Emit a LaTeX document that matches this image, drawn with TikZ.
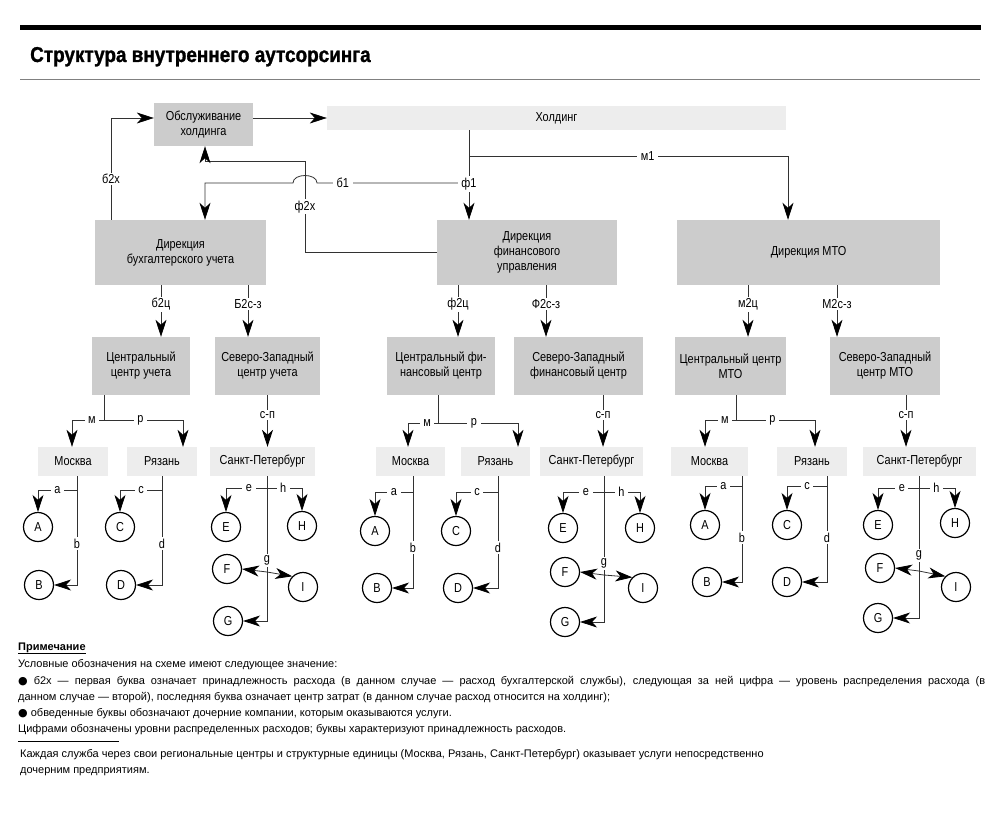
\documentclass[tikz,border=0pt]{standalone}
\usepackage{fontspec}
\setmainfont{Liberation Sans}
\newfontfamily\condfont{Liberation Sans}[FakeStretch=0.84]
\newfontfamily\titlecond{Liberation Sans}[FakeStretch=0.88,BoldFeatures={FakeBold=1.2}]
\newfontfamily\dotfont{DejaVu Sans}
\usetikzlibrary{arrows.meta}
\definecolor{boxgray}{RGB}{204,204,204}
\definecolor{palegray}{RGB}{237,237,237}
\definecolor{linegray}{RGB}{50,50,50}
\newcommand{\boxfont}{\condfont\fontsize{13}{15}\selectfont}
\newcommand{\notefont}{\fontsize{11}{14}\selectfont}
\newcommand{\titlefont}{\titlecond\bfseries\fontsize{21.5}{24}\selectfont}

\begin{document}
\begin{tikzpicture}[x=1pt,y=-1pt,
  box/.style={fill=boxgray,inner sep=0pt,align=center,font=\boxfont},
  pale/.style={fill=palegray,inner sep=0pt,align=center,font=\boxfont,minimum height=29pt},
  firm/.style={draw,circle,line width=1.2pt,minimum size=29pt,inner sep=0pt,font=\boxfont},
  tag/.style={fill=white,inner xsep=3.5pt,inner ysep=1.5pt,font=\boxfont},
  conn/.style={draw=linegray,line width=0.8pt},
  arr/.style={conn,-{Stealth[length=17pt,width=11pt,inset=5pt,color=black]}},
  note/.style={anchor=base west,inner sep=0pt,font=\notefont}]
\useasboundingbox (0,0) rectangle (1000,813);

% title
\draw[line width=5pt] (20,28) -- (981,28);
\node[anchor=base west,inner sep=0pt,font=\titlefont] (title) at (30,62) {Структура внутреннего аутсорсинга};
\draw[gray,line width=1pt] (20,80) -- (980,80);

% top level
\node[box,minimum width=99pt,minimum height=43pt] (obsl) at (203.5,124.5) {Обслуживание\\холдинга};
\node[pale,minimum width=459pt,minimum height=24pt] (hold) at (556.5,118) {Холдинг};
\node[box,minimum width=171pt,minimum height=65pt] (dirB) at (180.5,252.5) {Дирекция\\бухгалтерского учета};
\node[box,minimum width=180pt,minimum height=65pt] (dirF) at (527,252.5) {Дирекция\\финансового\\управления};
\node[box,minimum width=263pt,minimum height=65pt] (dirM) at (808.5,252.5) {Дирекция МТО};

\coordinate (mJ) at (469,156);
\coordinate (bJ) at (469,183);
\coordinate (hop) at (305,183);
\coordinate (f2x) at (305,161);

\draw[arr] (obsl.east |- hold.west) -- (hold.west);
\draw[arr] ([xshift=-69.5]dirB.north) |- node[tag,pos=0.2]{б2х} (obsl.west |- hold.west);
\draw[arr] (mJ) -| node[tag,pos=0.28]{м1} ([xshift=-20.5]dirM.north);
\draw[arr] (bJ) -- node[tag,pos=0.83]{б1} ([xshift=12]hop)
  .. controls ([xshift=12,yshift=10]hop) and ([xshift=-12,yshift=10]hop) .. ([xshift=-12]hop)
  -| ([xshift=24.5]dirB.north);
\draw[arr] ([xshift=-87.5]hold.south) -- node[tag,pos=0.6]{ф1} ([xshift=-58]dirF.north);
\draw[arr] (dirF.west) -| node[tag,pos=0.75]{ф2х} (f2x) -| ([xshift=1.5]obsl.south);

% accounting
\node[box,minimum width=98pt,minimum height=58pt] (cenU) at (141,366) {Центральный\\центр учета};
\node[box,minimum width=105pt,minimum height=58pt] (nwU) at (267.5,366) {Северо-Западный\\центр учета};
\node[pale,minimum width=70pt] (mskU) at (73,461.5) {Москва};
\node[pale,minimum width=70pt] (rznU) at (162,461.5) {Рязань};
\node[pale,minimum width=105pt] (spbU) at (262.5,461.5) {Санкт-Петербург};
\node[firm] (uA) at (38,527) {A};
\node[firm] (uB) at (39,585) {B};
\node[firm] (uC) at (120,527) {C};
\node[firm] (uD) at (121,585) {D};
\node[firm] (uE) at (226,527) {E};
\node[firm] (uH) at (302,526) {H};
\node[firm] (uF) at (227,569) {F};
\node[firm] (uI) at (303,587) {I};
\node[firm] (uG) at (228,621) {G};
\coordinate (uJ) at (104,420);
\coordinate (uK) at (267,572);

\draw[arr] ([xshift=-19.5]dirB.south) -- node[tag,pos=0.37]{б2ц} ([xshift=20]cenU.north);
\draw[arr] ([xshift=67.5]dirB.south) -- node[tag,pos=0.37]{Б2с-з} ([xshift=-19.5]nwU.north);
\draw[conn] ([xshift=-37]cenU.south) -- (uJ);
\draw[arr] (uJ) -| node[tag,pos=0.19]{м} ([xshift=-1]mskU.north);
\draw[arr] (uJ) -| node[tag,pos=0.23]{р} ([xshift=21]rznU.north);
\draw[arr] (nwU.south) -- node[tag,pos=0.38]{с-п} (nwU.south |- spbU.north);
\draw[arr] ([xshift=4]mskU.south) |- node[tag,pos=0.31]{b} (uB.east);
\draw[arr] ([xshift=4,yshift=-14]mskU.south) -| node[tag,pos=0.25]{a} (uA.north);
\draw[arr] (rznU.south) |- node[tag,pos=0.31]{d} (uD.east);
\draw[arr] ([yshift=-14]rznU.south) -| node[tag,pos=0.25]{c} (uC.north);
\draw[arr] ([xshift=4.5]spbU.south) |- node[tag,pos=0.29]{g} (uG.east);
\draw[arr] ([xshift=4.5,yshift=-12]spbU.south) -| node[tag,pos=0.22]{e} (uE.north);
\draw[arr] ([xshift=4.5,yshift=-12]spbU.south) -| node[tag,pos=0.23]{h} (uH.north);
\draw[arr] (uK) -- (uF.east);
\draw[arr] (uK) -- (uI.north west);

% finance
\node[box,minimum width=108pt,minimum height=58pt] (cenF) at (441,366) {Центральный фи-\\нансовый центр};
\node[box,minimum width=129pt,minimum height=58pt] (nwF) at (578.5,366) {Северо-Западный\\финансовый центр};
\node[pale,minimum width=69pt] (mskF) at (410.5,461.5) {Москва};
\node[pale,minimum width=69pt] (rznF) at (495.5,461.5) {Рязань};
\node[pale,minimum width=103pt] (spbF) at (591.5,461.5) {Санкт-Петербург};
\node[firm] (fA) at (375,531) {A};
\node[firm] (fB) at (377,588) {B};
\node[firm] (fC) at (456,531) {C};
\node[firm] (fD) at (458,588) {D};
\node[firm] (fE) at (563,528) {E};
\node[firm] (fH) at (640,528) {H};
\node[firm] (fF) at (565,572) {F};
\node[firm] (fI) at (643,588) {I};
\node[firm] (fG) at (565,622) {G};
\coordinate (fJ) at (438,423);
\coordinate (fK) at (604,575);

\draw[arr] ([xshift=-69]dirF.south) -- node[tag,pos=0.37]{ф2ц} ([xshift=17]cenF.north);
\draw[arr] ([xshift=19]dirF.south) -- node[tag,pos=0.37]{Ф2с-з} ([xshift=-32.5]nwF.north);
\draw[conn] ([xshift=-3]cenF.south) -- (fJ);
\draw[arr] (fJ) -| node[tag,pos=0.18]{м} ([xshift=-2.5]mskF.north);
\draw[arr] (fJ) -| node[tag,pos=0.225]{р} ([xshift=22.5]rznF.north);
\draw[arr] ([xshift=24.5]nwF.south) -- node[tag,pos=0.38]{с-п} ([xshift=24.5]nwF.south |- spbF.north);
\draw[arr] ([xshift=2.5]mskF.south) |- node[tag,pos=0.32]{b} (fB.east);
\draw[arr] ([xshift=2.5,yshift=-16]mskF.south) -| node[tag,pos=0.25]{a} (fA.north);
\draw[arr] ([xshift=2.5]rznF.south) |- node[tag,pos=0.32]{d} (fD.east);
\draw[arr] ([xshift=2.5,yshift=-16]rznF.south) -| node[tag,pos=0.25]{c} (fC.north);
\draw[arr] ([xshift=12.5]spbF.south) |- node[tag,pos=0.3]{g} (fG.east);
\draw[arr] ([xshift=12.5,yshift=-16]spbF.south) -| node[tag,pos=0.22]{e} (fE.north);
\draw[arr] ([xshift=12.5,yshift=-16]spbF.south) -| node[tag,pos=0.24]{h} (fH.north);
\draw[arr] (fK) -- (fF.east);
\draw[arr] (fK) -- (fI.north west);

% MTO
\node[box,minimum width=111pt,minimum height=58pt] (cenT) at (730.5,366) {Центральный центр\\МТО};
\node[box,minimum width=110pt,minimum height=58pt] (nwT) at (885,366) {Северо-Западный\\центр МТО};
\node[pale,minimum width=77pt] (mskT) at (709.5,461.5) {Москва};
\node[pale,minimum width=70pt] (rznT) at (812,461.5) {Рязань};
\node[pale,minimum width=113pt] (spbT) at (919.5,461.5) {Санкт-Петербург};
\node[firm] (tA) at (705,525) {A};
\node[firm] (tB) at (707,582) {B};
\node[firm] (tC) at (787,525) {C};
\node[firm] (tD) at (787,582) {D};
\node[firm] (tE) at (878,525) {E};
\node[firm] (tH) at (955,523) {H};
\node[firm] (tF) at (880,568) {F};
\node[firm] (tI) at (956,587) {I};
\node[firm] (tG) at (878,618) {G};
\coordinate (tJ) at (736,420);
\coordinate (tK) at (919,571);

\draw[arr] ([xshift=-60.5]dirM.south) -- node[tag,pos=0.37]{м2ц} ([xshift=17.5]cenT.north);
\draw[arr] ([xshift=28.5]dirM.south) -- node[tag,pos=0.37]{М2с-з} ([xshift=-48]nwT.north);
\draw[conn] ([xshift=5.5]cenT.south) -- (tJ);
\draw[arr] (tJ) -| node[tag,pos=0.18]{м} ([xshift=-4.5]mskT.north);
\draw[arr] (tJ) -| node[tag,pos=0.23]{р} ([xshift=3]rznT.north);
\draw[arr] ([xshift=21]nwT.south) -- node[tag,pos=0.38]{с-п} ([xshift=21]nwT.south |- spbT.north);
\draw[arr] ([xshift=32.5]mskT.south) |- node[tag,pos=0.29]{b} (tB.east);
\draw[arr] ([xshift=32.5,yshift=-10]mskT.south) -| node[tag,pos=0.25]{a} (tA.north);
\draw[arr] ([xshift=15]rznT.south) |- node[tag,pos=0.29]{d} (tD.east);
\draw[arr] ([xshift=15,yshift=-10]rznT.south) -| node[tag,pos=0.25]{c} (tC.north);
\draw[arr] ([xshift=-0.5]spbT.south) |- node[tag,pos=0.28]{g} (tG.east);
\draw[arr] ([xshift=-0.5,yshift=-12]spbT.south) -| node[tag,pos=0.21]{e} (tE.north);
\draw[arr] ([xshift=-0.5,yshift=-12]spbT.south) -| node[tag,pos=0.24]{h} (tH.north);
\draw[arr] (tK) -- (tF.east);
\draw[arr] (tK) -- (tI.north west);

% notes
\node[note] (n0) at (18,650) {\underline{\textbf{Примечание}}};
\node[note] (n1) at (18,667) {Условные обозначения на схеме имеют следующее значение:};
\node[note] (n2) at (18,684) {\makebox[967pt][s]{{\dotfont ●} б2х — первая буква означает принадлежность расхода (в данном случае — расход бухгалтерской службы), следующая за ней цифра — уровень распределения расхода (в}};
\node[note] (n3) at (18,700) {данном случае — второй), последняя буква означает центр затрат (в данном случае расход относится на холдинг);};
\node[note] (n4) at (18,716) {{\dotfont ●} обведенные буквы обозначают дочерние компании, которым оказываются услуги.};
\node[note] (n5) at (18,732) {Цифрами обозначены уровни распределенных расходов; буквы характеризуют принадлежность расходов.};
\draw[line width=0.8pt] (18,741) -- (119,741);
\node[note] (n6) at (20,757) {Каждая служба через свои региональные центры и структурные единицы (Москва, Рязань, Санкт-Петербург) оказывает услуги непосредственно};
\node[note] (n7) at (20,773) {дочерним предприятиям.};
\end{tikzpicture}
\end{document}
